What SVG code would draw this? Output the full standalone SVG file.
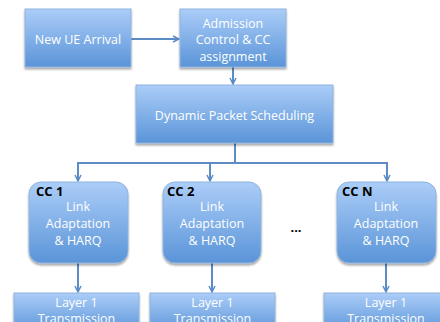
<svg xmlns="http://www.w3.org/2000/svg" width="440" height="322" viewBox="0 0 440 322">
<defs>
<linearGradient id="g" x1="0" y1="0" x2="0" y2="1">
<stop offset="0" stop-color="#abcdf8"/>
<stop offset="1" stop-color="#5a94d8"/>
</linearGradient>
<filter id="sh" x="-10%" y="-10%" width="130%" height="130%">
<feGaussianBlur in="SourceAlpha" stdDeviation="1.2"/>
<feOffset dx="0" dy="1.5" result="b"/>
<feComponentTransfer><feFuncA type="linear" slope="0.35"/></feComponentTransfer>
<feMerge><feMergeNode/><feMergeNode in="SourceGraphic"/></feMerge>
</filter>
<marker id="ah" markerWidth="8" markerHeight="8" refX="7" refY="4" orient="auto" markerUnits="userSpaceOnUse">
<path d="M1,1 L7,4 L1,7" fill="none" stroke="#5b8cc4" stroke-width="1.5"/>
</marker>
</defs>
<style>
.box{fill:url(#g);stroke:#8fb3dd;stroke-width:1;filter:url(#sh)}
.t{font-family:"Open Sans","Noto Sans",sans-serif;font-size:12.5px;fill:#ffffff;text-anchor:middle}
.b{font-family:"Open Sans","Noto Sans",sans-serif;font-size:13px;font-weight:bold;fill:#000000}
.c{fill:none;stroke:#5b8cc4;stroke-width:2}
</style>
<rect width="440" height="322" fill="#ffffff"/>
<g id="connectors">
<line class="c" x1="131" y1="39" x2="179" y2="39" marker-end="url(#ah)"/>
<line class="c" x1="233" y1="67" x2="233" y2="84" marker-end="url(#ah)"/>
<path class="c" d="M235,143 V163 M78,163 H387"/>
<line class="c" x1="78" y1="162" x2="78" y2="181" marker-end="url(#ah)"/>
<line class="c" x1="210" y1="162" x2="210" y2="181" marker-end="url(#ah)"/>
<line class="c" x1="387" y1="162" x2="387" y2="181" marker-end="url(#ah)"/>
<line class="c" x1="78" y1="263" x2="78" y2="292" marker-end="url(#ah)"/>
<line class="c" x1="212" y1="263" x2="212" y2="292" marker-end="url(#ah)"/>
<line class="c" x1="386" y1="263" x2="386" y2="292" marker-end="url(#ah)"/>
</g>
<g id="new-ue">
<rect class="box" x="25" y="9" width="106" height="58"/>
<text class="t" x="78" y="44">New UE Arrival</text>
</g>
<g id="admission">
<rect class="box" x="180" y="9" width="106" height="58"/>
<text class="t" x="233" y="28">Admission</text>
<text class="t" x="233" y="44">Control &amp; CC</text>
<text class="t" x="233" y="61">assignment</text>
</g>
<g id="dps">
<rect class="box" x="136" y="85" width="197" height="58"/>
<text class="t" x="234.5" y="120">Dynamic Packet Scheduling</text>
</g>
<g id="cc1">
<rect class="box" x="29" y="182" width="99" height="81" rx="12"/>
<text class="b" x="36" y="196">CC 1</text>
<text class="t" x="78" y="211">Link</text>
<text class="t" x="78" y="228">Adaptation</text>
<text class="t" x="78" y="245">&amp; HARQ</text>
</g>
<g id="cc2">
<rect class="box" x="163" y="182" width="98" height="81" rx="12"/>
<text class="b" x="167" y="196">CC 2</text>
<text class="t" x="212" y="211">Link</text>
<text class="t" x="212" y="228">Adaptation</text>
<text class="t" x="212" y="245">&amp; HARQ</text>
</g>
<g id="ccn">
<rect class="box" x="337" y="182" width="99" height="81" rx="12"/>
<text class="b" x="342" y="196">CC N</text>
<text class="t" x="386" y="211">Link</text>
<text class="t" x="386" y="228">Adaptation</text>
<text class="t" x="386" y="245">&amp; HARQ</text>
</g>
<g id="dots">
<text class="b" x="296" y="232" text-anchor="middle">...</text>
</g>
<g id="l1-1">
<rect class="box" x="14" y="293" width="125" height="40"/>
<text class="t" x="76.5" y="307">Layer 1</text>
<text class="t" x="76.5" y="323">Transmission</text>
</g>
<g id="l1-2">
<rect class="box" x="150" y="293" width="125" height="40"/>
<text class="t" x="212.5" y="307">Layer 1</text>
<text class="t" x="212.5" y="323">Transmission</text>
</g>
<g id="l1-n">
<rect class="box" x="324" y="293" width="125" height="40"/>
<text class="t" x="386" y="307">Layer 1</text>
<text class="t" x="386" y="323">Transmission</text>
</g>
</svg>
